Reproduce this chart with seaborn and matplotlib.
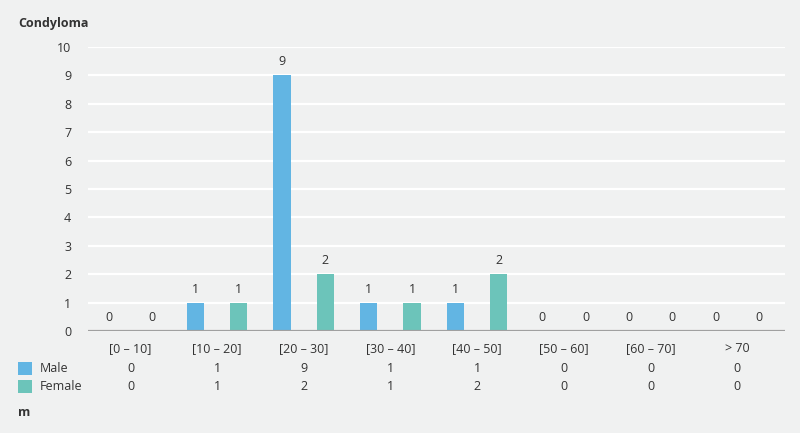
import matplotlib
matplotlib.use("Agg")
import matplotlib.pyplot as plt
from matplotlib.patches import Rectangle
import matplotlib.transforms as mtransforms
import pandas as pd
import seaborn as sns

# values
age_groups = ["[0 – 10]", "[10 – 20]", "[20 – 30]", "[30 – 40]",
              "[40 – 50]", "[50 – 60]", "[60 – 70]", "> 70"]
male = [0, 1, 9, 1, 1, 0, 0, 0]
female = [0, 1, 2, 1, 2, 0, 0, 0]
series_names = ["Male", "Female"]
series_colors = ["#62b5e3", "#6cc4ba"]

bg = "#f0f1f1"
txt = "#333333"

sns.set_theme(style="white")
plt.rcParams["font.family"] = ["Open Sans", "DejaVu Sans"]

df = pd.DataFrame({
    "group": age_groups * 2,
    "sex": [series_names[0]] * len(age_groups) + [series_names[1]] * len(age_groups),
    "count": male + female,
})

fig = plt.figure(figsize=(8, 4.33), dpi=100, facecolor=bg)
ax = fig.add_axes([0.11, 0.2356, 0.871, 0.656])
ax.set_facecolor(bg)

sns.barplot(data=df, x="group", y="count", hue="sex", order=age_groups,
            hue_order=series_names, palette=series_colors, width=1.0, gap=0.6,
            saturation=1, linewidth=0, legend=False, ax=ax, zorder=3)

for cont in ax.containers:
    ax.bar_label(cont, padding=5, fontsize=9, color=txt)

ax.set_ylim(0, 10)
ax.set_xlim(-0.49, 7.55)
ax.set_yticks(range(0, 11))
ax.grid(axis="y", color="white", linewidth=1.6, zorder=0)
ax.axhline(0, color="#a0a0a0", linewidth=1.6, zorder=4)
for s in ax.spines.values():
    s.set_visible(False)
ax.tick_params(axis="both", length=0, labelsize=9, labelcolor=txt)
ax.tick_params(axis="y", pad=12)
ax.tick_params(axis="x", pad=8)
ax.set_xlabel("")
ax.set_ylabel("")

fig.text(0.0225, 0.945, "Condyloma", fontsize=9, fontweight="bold",
         color=txt, va="center")

# data table under the axis
trans = mtransforms.blended_transform_factory(ax.transData, fig.transFigure)
rows = [male, female]
row_y = [1 - 368 / 433, 1 - 386 / 433]
for name, color, vals, y in zip(series_names, series_colors, rows, row_y):
    fig.patches.append(Rectangle((18 / 800, y - 6.5 / 433), 14 / 800, 13 / 433,
                                 transform=fig.transFigure, facecolor=color,
                                 edgecolor="none"))
    fig.text(40 / 800, y, name, fontsize=9, color=txt, va="center")
    for i, v in enumerate(vals):
        ax.text(i, y, str(v), transform=trans, fontsize=9, color=txt,
                ha="center", va="center", clip_on=False)

fig.text(18 / 800, 1 - 413 / 433, "m", fontsize=9, fontweight="bold",
         color=txt, va="center")

fig.savefig("out.png", dpi=100, facecolor=bg)
